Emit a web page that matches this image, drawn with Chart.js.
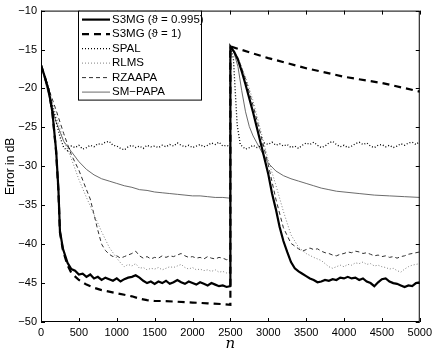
<!DOCTYPE html>
<html>
<head>
<meta charset="utf-8">
<script src="https://cdn.jsdelivr.net/npm/chart.js@4.4.1/dist/chart.umd.min.js"></script>
<style>
  html, body { margin: 0; padding: 0; background: #fff; }
  #wrap { width: 436px; height: 353px; }
</style>
</head>
<body>
<div id="wrap"><canvas id="myChart" width="436" height="353"></canvas></div>
<script>
'use strict';

// axis ticks
let xTicks = [0, 500, 1000, 1500, 2000, 2500, 3000, 3500, 4000, 4500, 5000];
let yTicks = [-50, -45, -40, -35, -30, -25, -20, -15, -10];

let seriesNames = ['S3MG (\u03D1 = 0.995)', 'S3MG (\u03D1 = 1)', 'SPAL', 'RLMS', 'RZAAPA', 'SM\u2212PAPA'];

// [n, error in dB]; the jump at n = 2500 is two points
let s3mg995 = [
  [0, -17], [50, -18.5], [100, -20.2], [150, -23], [200, -28], [230, -33], [250, -38.3], [290, -40.6],
  [350, -42.4], [400, -43.2], [450, -43.4], [500, -43.9], [550, -43.8], [600, -44.2], [650, -43.9],
  [700, -44.4], [750, -44.2], [800, -44.6], [850, -44.3], [900, -44.5], [950, -44.7], [1000, -44.4],
  [1050, -44.8], [1100, -44.5], [1150, -44.3], [1200, -44.2], [1250, -44.0], [1300, -44.3], [1350, -44.7],
  [1400, -45.0], [1450, -44.8], [1500, -45.1], [1550, -44.8], [1600, -45.0], [1650, -44.7], [1700, -45.1],
  [1750, -44.9], [1800, -44.6], [1850, -44.9], [1900, -45.1], [1950, -44.8], [2000, -45.0], [2050, -45.2],
  [2100, -44.9], [2150, -45.1], [2200, -45.3], [2250, -45.0], [2300, -45.2], [2350, -45.4], [2400, -45.3],
  [2450, -45.5], [2500, -45.4],
  [2500, -14.6], [2550, -15.3], [2600, -16.3], [2650, -17.8], [2700, -19.5], [2800, -23.1], [2900, -27],
  [3000, -31], [3050, -33.5], [3100, -35.5], [3150, -37.8], [3200, -39.6], [3250, -41], [3300, -42.3],
  [3350, -43.1], [3400, -43.5], [3450, -43.8], [3500, -44.1], [3550, -44.4], [3600, -44.6], [3650, -44.9],
  [3700, -44.8], [3750, -44.6], [3800, -44.7], [3850, -44.5], [3900, -44.6], [3950, -44.3], [4000, -44.4],
  [4050, -44.2], [4100, -44.4], [4150, -44.3], [4200, -44.6], [4250, -44.4], [4300, -44.8], [4350, -45.0],
  [4400, -45.4], [4450, -44.9], [4500, -44.5], [4550, -44.4], [4600, -44.8], [4650, -45.0], [4700, -45.1],
  [4750, -45.3], [4800, -45.5], [4850, -45.3], [4900, -45.4], [4950, -45.0], [5000, -44.9]
];

let s3mg1 = [
  [0, -17], [50, -18.5], [100, -20.2], [150, -23], [200, -28.2], [230, -33.2], [250, -38.5], [290, -40.8],
  [350, -42.7], [400, -43.7], [500, -44.6], [600, -45.2], [700, -45.6], [800, -45.9], [900, -46.1],
  [1000, -46.3], [1100, -46.5], [1200, -46.7], [1300, -47.0], [1400, -47.2], [1500, -47.3], [1600, -47.3],
  [1800, -47.4], [2000, -47.5], [2200, -47.6], [2400, -47.7], [2500, -47.8],
  [2500, -14.6], [3000, -16.1], [3500, -17.4], [4000, -18.5], [4500, -19.3], [5000, -20.4]
];

let spal = [
  [0, -17], [100, -20], [200, -24.3], [250, -26.2], [300, -27.6], [350, -28.0], [400, -27.4], [450, -27.6],
  [500, -27.3], [550, -27.8], [600, -27.6], [650, -27.3], [700, -27.5], [750, -27.1], [800, -27.2],
  [850, -26.9], [900, -26.8], [950, -27.3], [1000, -27.4], [1050, -27.7], [1100, -27.9], [1150, -27.5],
  [1200, -27.3], [1250, -27.6], [1300, -27.4], [1350, -27.7], [1400, -27.3], [1450, -27.5], [1500, -27.4],
  [1550, -27.6], [1600, -27.3], [1650, -27.5], [1700, -27.2], [1750, -27.4], [1800, -27.0], [1850, -27.3],
  [1900, -27.5], [1950, -27.3], [2000, -27.6], [2050, -27.4], [2100, -27.2], [2150, -27.5], [2200, -27.3],
  [2250, -27.0], [2300, -27.2], [2350, -26.9], [2400, -27.4], [2450, -27.3], [2500, -27.5],
  [2500, -14.6], [2540, -16.2], [2565, -20.5], [2590, -24.7], [2630, -27.2], [2700, -27.8], [2750, -27.6],
  [2800, -27.3], [2850, -27.6], [2900, -27.4], [2950, -27.0], [3000, -27.2], [3050, -26.9], [3100, -27.3],
  [3150, -27.1], [3200, -27.4], [3250, -27.2], [3300, -27.6], [3350, -27.4], [3400, -27.7], [3450, -27.3],
  [3500, -27.0], [3550, -27.2], [3600, -26.9], [3650, -27.3], [3700, -27.6], [3750, -27.4], [3800, -27.0],
  [3850, -26.8], [3900, -27.2], [3950, -27.5], [4000, -27.3], [4050, -27.6], [4100, -27.4], [4150, -27.1],
  [4200, -26.9], [4250, -27.2], [4300, -27.0], [4350, -27.4], [4400, -27.6], [4450, -27.3], [4500, -27.2],
  [4550, -27.5], [4600, -27.3], [4650, -27.6], [4700, -27.4], [4750, -27.1], [4800, -27.3], [4850, -27.0],
  [4900, -26.9], [4950, -27.2], [5000, -26.8]
];

let rlms = [
  [0, -17], [100, -20.3], [200, -23.5], [300, -26.8], [350, -27.8], [400, -29], [500, -31.7], [600, -34],
  [700, -36.2], [800, -38.4], [900, -40.4], [1000, -41.8], [1050, -42.4], [1100, -42.9], [1150, -42.6],
  [1200, -42.8], [1250, -42.5], [1300, -43.1], [1350, -43.0], [1400, -43.3], [1450, -43.1], [1500, -43.2],
  [1550, -43.0], [1600, -43.3], [1650, -43.1], [1700, -42.9], [1750, -43.0], [1800, -42.8], [1850, -42.6],
  [1900, -43.0], [1950, -43.2], [2000, -43.0], [2050, -43.3], [2100, -43.2], [2150, -43.4], [2200, -43.3],
  [2250, -43.5], [2300, -43.3], [2350, -43.6], [2400, -43.5], [2450, -43.7], [2500, -43.6],
  [2500, -14.6], [2600, -16], [2700, -18.5], [2800, -21.6], [2900, -25.4], [3000, -29.2], [3100, -32.4],
  [3200, -35.8], [3300, -38.8], [3400, -40.4], [3500, -41.2], [3600, -41.7], [3700, -42.1], [3750, -42.5],
  [3800, -42.9], [3850, -43.1], [3900, -42.9], [3950, -42.7], [4000, -42.9], [4050, -42.6], [4100, -42.7],
  [4150, -42.4], [4200, -42.5], [4250, -42.3], [4300, -42.6], [4350, -42.5], [4400, -42.8], [4450, -42.7],
  [4500, -42.9], [4550, -43.0], [4600, -43.2], [4650, -43.1], [4700, -43.4], [4750, -43.6], [4800, -43.2],
  [4850, -42.9], [4900, -42.7], [4950, -42.6], [5000, -42.5]
];

let rzaapa = [
  [0, -17], [100, -20], [200, -22.8], [300, -25.8], [400, -28.5], [500, -30.5], [600, -33], [650, -34.2],
  [700, -36.2], [750, -38.2], [800, -40], [850, -40.8], [900, -41.3], [950, -41.6], [1000, -41.5],
  [1050, -41.8], [1100, -41.6], [1150, -41.4], [1200, -41.2], [1250, -40.9], [1300, -41.5], [1350, -41.8],
  [1400, -41.6], [1450, -41.9], [1500, -41.7], [1550, -41.8], [1600, -41.5], [1650, -41.7], [1700, -41.5],
  [1750, -41.6], [1800, -41.4], [1850, -41.2], [1900, -41.5], [1950, -41.7], [2000, -41.6], [2050, -41.8],
  [2100, -41.7], [2150, -41.9], [2200, -41.6], [2250, -41.8], [2300, -41.9], [2350, -41.7], [2400, -41.8],
  [2450, -42.0], [2500, -41.9],
  [2500, -14.6], [2600, -16.1], [2700, -18.8], [2800, -22.2], [2900, -25.9], [3000, -29.8], [3100, -34.2],
  [3200, -37.9], [3300, -39.9], [3400, -40.6], [3450, -40.9], [3500, -40.7], [3550, -40.5], [3600, -40.7],
  [3650, -40.6], [3700, -40.9], [3750, -41.1], [3800, -41.2], [3850, -41.4], [3900, -41.5], [3950, -41.3],
  [4000, -41.2], [4050, -41.0], [4100, -41.1], [4150, -40.9], [4200, -41.0], [4250, -41.2], [4300, -41.1],
  [4350, -41.3], [4400, -41.5], [4450, -41.4], [4500, -41.6], [4550, -41.5], [4600, -41.7], [4650, -41.6],
  [4700, -41.8], [4750, -41.6], [4800, -41.5], [4850, -41.3], [4900, -41.2], [4950, -41.1], [5000, -41.0]
];

let smPapa = [
  [0, -17], [100, -20.8], [200, -24.3], [300, -26.8], [400, -28.1], [500, -29.4], [600, -30.4], [700, -31.1],
  [800, -31.6], [900, -31.9], [1000, -32.2], [1100, -32.5], [1200, -32.7], [1300, -33.0], [1400, -33.1],
  [1500, -33.3], [1600, -33.4], [1700, -33.5], [1800, -33.6], [1900, -33.7], [2000, -33.8], [2100, -33.8],
  [2200, -33.9], [2300, -34.0], [2400, -34.0], [2500, -34.1],
  [2500, -14.6], [2550, -15.5], [2600, -17.2], [2650, -20.3], [2700, -23], [2750, -24.9], [2800, -26.1],
  [2900, -27.9], [3000, -29.6], [3100, -30.6], [3200, -31.2], [3300, -31.6], [3400, -31.9], [3500, -32.2],
  [3600, -32.5], [3700, -32.8], [3800, -33.0], [3900, -33.2], [4000, -33.3], [4200, -33.5], [4400, -33.7],
  [4600, -33.8], [4800, -33.9], [5000, -34.0]
];

let allSeries = [s3mg995, s3mg1, spal, rlms, rzaapa, smPapa];

// line looks, same order as the names
let lineColors = ['#000000', '#000000', '#000000', '#808080', '#303030', '#5a5a5a'];
let lineWidths = [2.2, 2.2, 1.3, 1, 1, 0.9];
let lineDashes = [[], [7, 5], [1, 2], [1, 2], [4, 3], []];

function minus(v) {
  return v < 0 ? '\u2212' + Math.abs(v) : String(v);
}

let datasets = [];
for (let i = 0; i < allSeries.length; i++) {
  datasets.push({
    label: seriesNames[i],
    data: allSeries[i].map(p => ({ x: p[0], y: p[1] })),
    borderColor: lineColors[i],
    borderWidth: lineWidths[i],
    borderDash: lineDashes[i],
    pointRadius: 0,
    tension: 0,
    fill: false
  });
}

// box round the plot with inward ticks on all four sides
const framePlugin = {
  id: 'frame',
  afterDatasetsDraw(chart) {
    const ctx = chart.ctx;
    const a = chart.chartArea;
    const xs = chart.scales.x;
    const ys = chart.scales.y;
    ctx.save();
    ctx.strokeStyle = '#000';
    ctx.lineWidth = 1;
    ctx.setLineDash([]);
    ctx.strokeRect(a.left + 0.5, a.top + 0.5, a.right - a.left - 1, a.bottom - a.top - 1);
    ctx.beginPath();
    for (let t of xTicks) {
      let px = Math.round(xs.getPixelForValue(t)) + 0.5;
      ctx.moveTo(px, a.bottom); ctx.lineTo(px, a.bottom - 4);
      ctx.moveTo(px, a.top); ctx.lineTo(px, a.top + 4);
    }
    for (let t of yTicks) {
      let py = Math.round(ys.getPixelForValue(t)) + 0.5;
      ctx.moveTo(a.left, py); ctx.lineTo(a.left + 4, py);
      ctx.moveTo(a.right, py); ctx.lineTo(a.right - 4, py);
    }
    ctx.stroke();
    ctx.restore();
  }
};

const legendPlugin = {
  id: 'boxLegend',
  afterDraw(chart) {
    const ctx = chart.ctx;
    const a = chart.chartArea;
    let left = 78, top = a.top, w = 123, h = 89;
    ctx.save();
    ctx.fillStyle = '#fff';
    ctx.fillRect(left, top, w, h);
    ctx.strokeStyle = '#000';
    ctx.lineWidth = 1;
    ctx.setLineDash([]);
    ctx.strokeRect(left + 0.5, top + 0.5, w, h);
    ctx.font = "11.5px 'Liberation Sans', Arial, sans-serif";
    ctx.textBaseline = 'middle';
    ctx.fillStyle = '#000';
    for (let i = 0; i < seriesNames.length; i++) {
      let yy = top + 9 + i * 14.5;
      ctx.beginPath();
      ctx.strokeStyle = lineColors[i];
      ctx.lineWidth = lineWidths[i];
      ctx.setLineDash(lineDashes[i]);
      ctx.moveTo(82, yy);
      ctx.lineTo(110, yy);
      ctx.stroke();
      ctx.fillText(seriesNames[i], 112, yy);
    }
    ctx.restore();
  }
};

Chart.defaults.font.family = "'Liberation Sans', Arial, sans-serif";
Chart.defaults.color = '#000';

const config = {
  type: 'line',
  data: { datasets: datasets },
  options: {
    responsive: false,
    animation: false,
    devicePixelRatio: 1,
    layout: { padding: { top: 8, right: 14, left: 0, bottom: 0 } },
    plugins: { legend: { display: false }, tooltip: { enabled: false } },
    scales: {
      x: {
        type: 'linear',
        min: 0,
        max: 5000,
        grid: { display: false, drawTicks: false },
        border: { display: false },
        afterBuildTicks: s => { s.ticks = xTicks.map(v => ({ value: v })); },
        afterFit: s => { s.height = 31; },
        ticks: { autoSkip: false, maxRotation: 0, padding: 4, font: { size: 11 }, callback: v => String(v) },
        title: {
          display: true,
          text: 'n',
          font: { family: "'DejaVu Serif', 'Liberation Serif', serif", style: 'italic', size: 15 },
          padding: { top: 0, bottom: 0 }
        }
      },
      y: {
        type: 'linear',
        min: -50,
        max: -10,
        grid: { display: false, drawTicks: false },
        border: { display: false },
        afterBuildTicks: s => { s.ticks = yTicks.map(v => ({ value: v })); },
        afterFit: s => { s.width = 41; },
        ticks: { autoSkip: false, padding: 4, font: { size: 11 }, callback: v => minus(v) },
        title: {
          display: true,
          text: 'Error in dB',
          font: { size: 12 },
          padding: { top: 3, bottom: 0 }
        }
      }
    }
  },
  plugins: [framePlugin, legendPlugin]
};

const myChart = new Chart(document.getElementById('myChart'), config);
</script>
</body>
</html>
